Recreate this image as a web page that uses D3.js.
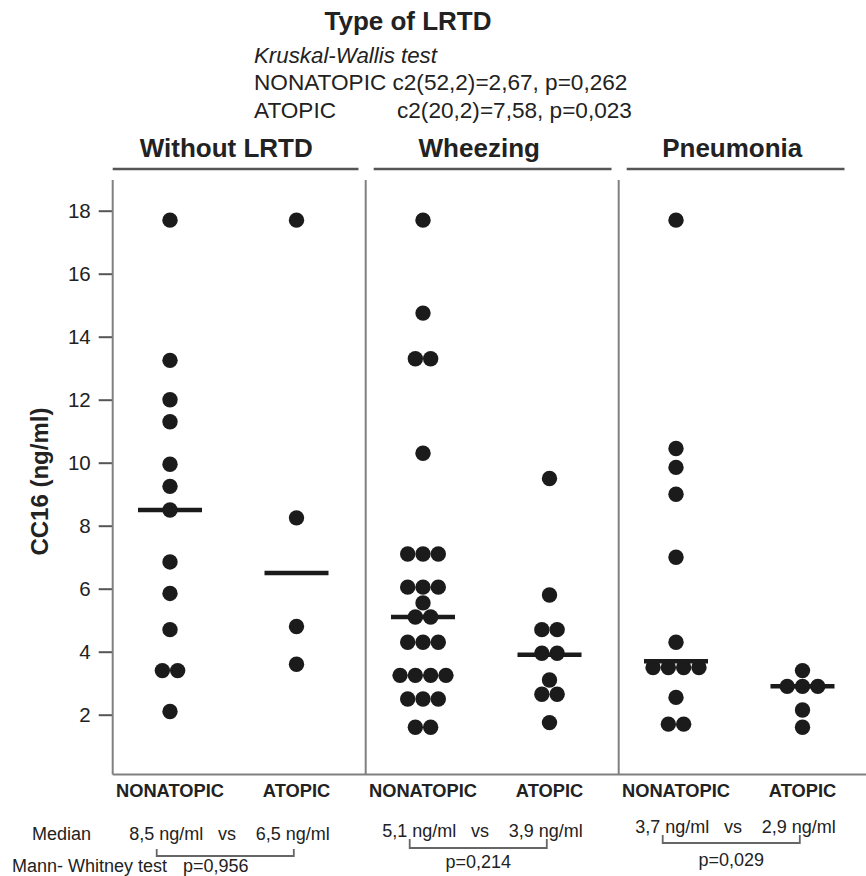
<!DOCTYPE html>
<html>
<head>
<meta charset="utf-8">
<script src="https://cdn.jsdelivr.net/npm/d3@7/dist/d3.min.js"></script>
<style>
  html, body { margin: 0; padding: 0; background: #fff; }
  svg { display: block; font-family: "Liberation Sans", Arial, Helvetica, sans-serif; }
</style>
</head>
<body>
<svg id="chart" width="866" height="876"></svg>
<script>
// ---------- data ----------
const lrtdTypes = ["Without LRTD", "Wheezing", "Pneumonia"];
const atopyGroups = ["NONATOPIC", "ATOPIC"];
const yTicks = [2, 4, 6, 8, 10, 12, 14, 16, 18];

const withoutNonatopic = [17.7, 13.25, 12.0, 11.3, 9.95, 9.25, 8.5, 6.85, 5.85, 4.7, 3.4, 3.4, 2.1];
const withoutAtopic = [17.7, 8.25, 4.8, 3.6];
const wheezingNonatopic = [17.7, 14.75, 13.3, 13.3, 10.3, 7.1, 7.1, 7.1, 6.05, 6.05, 6.05, 5.55, 5.1, 5.1,
                           4.3, 4.3, 4.3, 3.25, 3.25, 3.25, 3.25, 2.5, 2.5, 2.5, 1.6, 1.6];
const wheezingAtopic = [9.5, 5.8, 4.7, 4.7, 3.95, 3.95, 3.1, 2.65, 2.65, 1.75];
const pneumoniaNonatopic = [17.7, 10.45, 9.85, 9.0, 7.0, 4.3, 3.5, 3.5, 3.5, 3.5, 2.55, 1.7, 1.7];
const pneumoniaAtopic = [3.4, 2.9, 2.9, 2.9, 2.15, 1.6];

const medians = [8.5, 6.5, 5.1, 3.9, 3.7, 2.9];           // ng/ml, in column order
const mannWhitneyP = ["0,956", "0,214", "0,029"];
const kruskalTitle = "Kruskal-Wallis test";
const kruskalRows = [
  ["NONATOPIC", "c2(52,2)=2,67, p=0,262"],
  ["ATOPIC", "c2(20,2)=7,58, p=0,023"]
];

// ---------- setup ----------
const seriesValues = [withoutNonatopic, withoutAtopic, wheezingNonatopic, wheezingAtopic, pneumoniaNonatopic, pneumoniaAtopic];
const columns = [];
lrtdTypes.forEach((t, gi) => atopyGroups.forEach((a, ai) => {
  columns.push({ key: t + "|" + a, type: t, atopy: a, gi, values: seriesValues[gi * 2 + ai], median: medians[gi * 2 + ai] });
}));

const svg = d3.select("#chart");
const FONT_COLOR = "#222";
const AXIS_COLOR = "#808080";

const x = d3.scalePoint().domain(columns.map(c => c.key)).range([170, 802.5]);
const y = d3.scaleLinear().domain([2, 18]).range([714.7, 210.7]);

const axisTop = 180;
const axisBottom = y(0.1);
const leftX = x(columns[0].key) - 57.3;

// ---------- axes / frame ----------
const yAxis = d3.axisLeft(y).tickValues(yTicks).tickSize(14).tickPadding(8).tickFormat(d3.format("d"));
const gy = svg.append("g").attr("transform", `translate(${leftX},0)`).call(yAxis);
gy.select(".domain").remove();
gy.selectAll(".tick line").attr("stroke", "#555").attr("stroke-width", 2);
gy.selectAll(".tick text").attr("font-size", 20.5).attr("fill", FONT_COLOR)
  .attr("font-family", "'Liberation Sans', Arial, sans-serif");

// left axis line
svg.append("line").attr("x1", leftX).attr("x2", leftX).attr("y1", axisTop).attr("y2", axisBottom)
  .attr("stroke", AXIS_COLOR).attr("stroke-width", 2);
// group separators
lrtdTypes.forEach((t, gi) => {
  if (gi === 0) return;
  const sx = x(t + "|NONATOPIC") - 57.3;
  svg.append("line").attr("x1", sx).attr("x2", sx).attr("y1", axisTop).attr("y2", axisBottom)
    .attr("stroke", AXIS_COLOR).attr("stroke-width", 2);
});
// bottom line
svg.append("line").attr("x1", leftX).attr("x2", 866).attr("y1", axisBottom).attr("y2", axisBottom)
  .attr("stroke", AXIS_COLOR).attr("stroke-width", 2);

// y-axis title
svg.append("text")
  .attr("transform", `translate(48,${(y(9.4))}) rotate(-90)`)
  .attr("text-anchor", "middle").attr("font-size", 24).attr("font-weight", "bold").attr("fill", FONT_COLOR)
  .text("CC16 (ng/ml)");

// ---------- header ----------
svg.append("text").attr("x", 408).attr("y", 30).attr("text-anchor", "middle")
  .attr("font-size", 26).attr("font-weight", "bold").attr("fill", FONT_COLOR).text("Type of LRTD");
svg.append("text").attr("x", 254).attr("y", 63).attr("font-size", 22.3).attr("font-style", "italic")
  .attr("fill", FONT_COLOR).text(kruskalTitle);
kruskalRows.forEach((r, i) => {
  const yy = 90 + i * 28;
  if (i === 0) {
    svg.append("text").attr("x", 254).attr("y", yy).attr("font-size", 22.6).attr("fill", FONT_COLOR)
      .text(r[0] + " " + r[1]);
  } else {
    svg.append("text").attr("x", 254).attr("y", yy).attr("font-size", 22.6).attr("fill", FONT_COLOR).text(r[0]);
    svg.append("text").attr("x", 397).attr("y", yy).attr("font-size", 22.6).attr("fill", FONT_COLOR).text(r[1]);
  }
});

// group headers and their lines
lrtdTypes.forEach((t, gi) => {
  const xn = x(t + "|NONATOPIC"), xa = x(t + "|ATOPIC");
  const mid = (xn + xa) / 2;
  svg.append("text").attr("x", mid - 7).attr("y", 157).attr("text-anchor", "middle")
    .attr("font-size", 26).attr("font-weight", "bold").attr("fill", FONT_COLOR).text(t);
  const l = xn - 57.3 + (gi > 0 ? 8 : 0);
  const r = gi < 2 ? x(lrtdTypes[gi + 1] + "|NONATOPIC") - 64.5 : xa + 42;
  svg.append("line").attr("x1", l).attr("x2", r).attr("y1", 169).attr("y2", 169)
    .attr("stroke", "#555").attr("stroke-width", 2.5);
});

// ---------- dots (centered rows for tied values) ----------
const R = 7.7, STEP = 15.3;
columns.forEach(c => {
  const counts = d3.rollup(c.values, v => v.length, d => d);
  const seen = new Map();
  const pts = c.values.map(v => {
    const n = counts.get(v);
    const i = seen.get(v) || 0;
    seen.set(v, i + 1);
    return { v, dx: (i - (n - 1) / 2) * STEP };
  });
  svg.append("g").selectAll("circle").data(pts).join("circle")
    .attr("cx", d => x(c.key) + d.dx).attr("cy", d => y(d.v)).attr("r", R).attr("fill", "#1b1b1b");
  svg.append("line").attr("x1", x(c.key) - 32).attr("x2", x(c.key) + 32)
    .attr("y1", y(c.median)).attr("y2", y(c.median)).attr("stroke", "#1b1b1b").attr("stroke-width", 4.5);
});

// ---------- bottom labels ----------
columns.forEach(c => {
  svg.append("text").attr("x", x(c.key)).attr("y", 797).attr("text-anchor", "middle")
    .attr("font-size", 18.3).attr("font-weight", "bold").attr("fill", FONT_COLOR).text(c.atopy);
});

const fmt = v => d3.format(".1f")(v).replace(".", ",");
svg.append("text").attr("x", 32).attr("y", 840).attr("font-size", 18).attr("fill", FONT_COLOR).text("Median");
svg.append("text").attr("x", 12).attr("y", 872).attr("font-size", 18).attr("fill", FONT_COLOR).text("Mann- Whitney test");

const rowBase = [840, 837, 833];
const pBase = [872, 868, 866];
const brTop = [849, 839, 835];
const brBot = [856, 848, 843];
lrtdTypes.forEach((t, gi) => {
  const xn = x(t + "|NONATOPIC"), xa = x(t + "|ATOPIC");
  const c0 = columns[gi * 2], c1 = columns[gi * 2 + 1];
  const s0 = xn - 40.7, vsX = xn + 48, s1 = xa - 40.7;
  svg.append("text").attr("x", s0).attr("y", rowBase[gi]).attr("font-size", 18).attr("fill", FONT_COLOR).text(fmt(c0.median) + " ng/ml");
  svg.append("text").attr("x", vsX).attr("y", rowBase[gi]).attr("font-size", 18).attr("fill", FONT_COLOR).text("vs");
  svg.append("text").attr("x", s1).attr("y", rowBase[gi]).attr("font-size", 18).attr("fill", FONT_COLOR).text(fmt(c1.median) + " ng/ml");
  const bl = s0 + 27.4, br = s1 + 38;
  svg.append("path")
    .attr("d", `M${bl},${brTop[gi]}V${brBot[gi]}H${br}V${brTop[gi]}`)
    .attr("fill", "none").attr("stroke", "#666").attr("stroke-width", 1.8);
  const pX = gi === 0 ? 183 : (bl + br) / 2;
  svg.append("text").attr("x", pX).attr("y", pBase[gi]).attr("font-size", 18)
    .attr("text-anchor", gi === 0 ? "start" : "middle").attr("fill", FONT_COLOR).text("p=" + mannWhitneyP[gi]);
});
</script>
</body>
</html>
